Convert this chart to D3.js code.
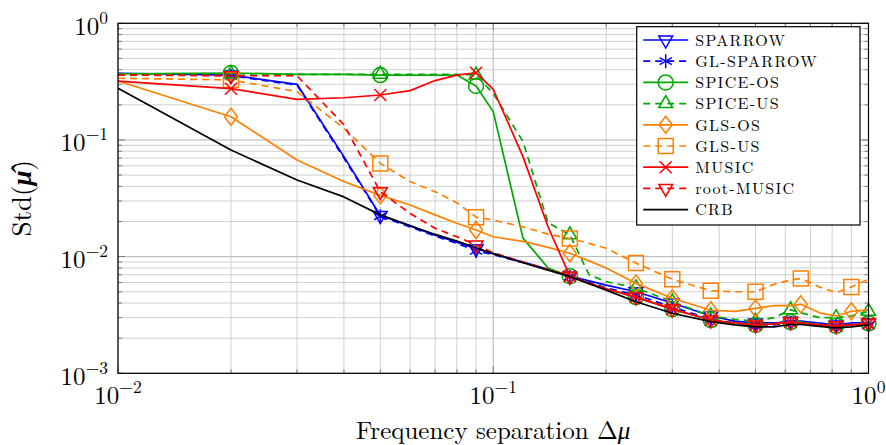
<!DOCTYPE html>
<html>
<head>
<meta charset="utf-8">
<script src="https://cdn.jsdelivr.net/npm/d3@7"></script>
<style>
  body { margin: 0; background: #fff; }
  text { font-family: "Latin Modern Roman", "CMU Serif", "Liberation Serif", serif; fill: #000; }
</style>
</head>
<body>
<div id="chart"></div>
<script>
/********************************************************
 ********************* Data *****************************
 ********************************************************/
var deltaMu = [0.01, 0.02, 0.03, 0.04, 0.05, 0.06, 0.07, 0.08, 0.09, 0.1, 0.12, 0.14, 0.16, 0.18, 0.2,
               0.24, 0.3, 0.38, 0.44, 0.5, 0.56, 0.62, 0.66, 0.74, 0.82, 0.9, 1];

// where the marks sit
var markAt = [0.02, 0.05, 0.09, 0.16, 0.24, 0.3, 0.38, 0.5, 0.62, 0.82, 1];
var markAtGLS = [0.02, 0.05, 0.09, 0.16, 0.24, 0.3, 0.38, 0.5, 0.66, 0.9];

var sparrow = [0.373, 0.36, 0.30, 0.072, 0.0225, 0.0183, 0.0153, 0.0133, 0.0117, 0.0106, 0.0090, 0.0078, 0.0068, 0.0062, 0.0057,
               0.0050, 0.0040, 0.0031, 0.0028, 0.0027, 0.0027, 0.0028, 0.0028, 0.0027, 0.0026, 0.0027, 0.0027];
var glSparrow = [0.37, 0.355, 0.295, 0.07, 0.0222, 0.018, 0.015, 0.013, 0.0112, 0.0104, 0.0089, 0.0077, 0.0067, 0.006, 0.0054,
                 0.0047, 0.0037, 0.0029, 0.0027, 0.0026, 0.0026, 0.0027, 0.0027, 0.0026, 0.00255, 0.0026, 0.0026];
var spiceOS = [0.368, 0.375, 0.365, 0.365, 0.36, 0.36, 0.36, 0.36, 0.29, 0.175, 0.0144, 0.008, 0.0068, 0.0059, 0.0053,
               0.0045, 0.00355, 0.00286, 0.0027, 0.0026, 0.00265, 0.00275, 0.00275, 0.0026, 0.00255, 0.0026, 0.00268];
var spiceUS = [0.365, 0.37, 0.365, 0.365, 0.365, 0.365, 0.365, 0.365, 0.36, 0.25, 0.097, 0.0195, 0.0154, 0.007, 0.0061,
               0.0054, 0.0041, 0.0031, 0.0029, 0.0028, 0.0030, 0.0035, 0.0033, 0.0030, 0.0030, 0.0031, 0.0034];
var glsOS = [0.32, 0.158, 0.0674, 0.044, 0.0335, 0.0277, 0.0228, 0.0193, 0.0169, 0.0148, 0.0135, 0.012, 0.0107, 0.0092, 0.008,
             0.0059, 0.0044, 0.00347, 0.0034, 0.0036, 0.0038, 0.0038, 0.0039, 0.0033, 0.0031, 0.0034, 0.0035];
var glsUS = [0.338, 0.327, 0.26, 0.126, 0.063, 0.044, 0.036, 0.029, 0.0218, 0.0206, 0.018, 0.0156, 0.0143, 0.013, 0.0118,
             0.0088, 0.0064, 0.0051, 0.005, 0.005, 0.0058, 0.0063, 0.0065, 0.0055, 0.0049, 0.0055, 0.0064];
var music = [0.32, 0.275, 0.223, 0.23, 0.243, 0.265, 0.323, 0.36, 0.377, 0.272, 0.072, 0.018, 0.0068, 0.0059, 0.0053,
             0.0045, 0.00355, 0.00286, 0.0027, 0.0026, 0.00265, 0.00275, 0.0027, 0.0026, 0.00255, 0.0026, 0.00268];
var rootMusic = [0.36, 0.355, 0.355, 0.135, 0.036, 0.0235, 0.0175, 0.0148, 0.0126, 0.0108, 0.009, 0.0078, 0.0068, 0.0059, 0.0053,
                 0.0045, 0.00355, 0.00286, 0.0027, 0.0026, 0.00265, 0.00275, 0.0027, 0.0026, 0.00255, 0.0026, 0.00268];
var crb = [0.277, 0.082, 0.0454, 0.0325, 0.0228, 0.0185, 0.0155, 0.0136, 0.0119, 0.0106, 0.00887, 0.00766, 0.00675, 0.00586, 0.00516,
           0.0041, 0.00327, 0.00277, 0.0026, 0.0025, 0.0025, 0.00262, 0.00262, 0.00252, 0.00245, 0.0025, 0.0026];

var seriesNames = ["SPARROW", "GL-SPARROW", "SPICE-OS", "SPICE-US", "GLS-OS", "GLS-US", "MUSIC", "root-MUSIC", "CRB"];
var xTickExp = [-2, -1, 0];
var yTickExp = [-3, -2, -1, 0];

/********************************************************
 ********************* Setup ****************************
 ********************************************************/
var W = 886, H = 445;
var margin = {top: 23.3, right: 17.5, bottom: 71.7, left: 118},
    width = W - margin.left - margin.right,
    height = H - margin.top - margin.bottom;

var blue = "#0000ff", green = "#00a800", orange = "#ff8000", red = "#ff0000";

var series = [
  {name: seriesNames[0], values: sparrow,   color: blue,   dash: null,  mark: "triDown",  marks: markAt},
  {name: seriesNames[1], values: glSparrow, color: blue,   dash: "7,5", mark: "asterisk", marks: markAt},
  {name: seriesNames[2], values: spiceOS,   color: green,  dash: null,  mark: "circle",   marks: markAt},
  {name: seriesNames[3], values: spiceUS,   color: green,  dash: "7,5", mark: "triUp",    marks: markAt},
  {name: seriesNames[4], values: glsOS,     color: orange, dash: null,  mark: "diamond",  marks: markAtGLS},
  {name: seriesNames[5], values: glsUS,     color: orange, dash: "7,5", mark: "square",   marks: markAtGLS},
  {name: seriesNames[6], values: music,     color: red,    dash: null,  mark: "cross",    marks: markAt},
  {name: seriesNames[7], values: rootMusic, color: red,    dash: "7,5", mark: "triDown",  marks: markAt},
  {name: seriesNames[8], values: crb,       color: "#000", dash: null,  mark: null,       marks: []}
];

// mark shapes, drawn round (0,0)
function markPath(kind) {
  var p = d3.path();
  if (kind == "triDown") {
    p.moveTo(0, 8); p.lineTo(-6.9, -4); p.lineTo(6.9, -4); p.closePath();
  } else if (kind == "triUp") {
    p.moveTo(0, -8); p.lineTo(-6.9, 4); p.lineTo(6.9, 4); p.closePath();
  } else if (kind == "circle") {
    p.arc(0, 0, 7.5, 0, 2 * Math.PI);
  } else if (kind == "square") {
    p.rect(-7.5, -7.5, 15, 15);
  } else if (kind == "diamond") {
    p.moveTo(0, -8.5); p.lineTo(6.5, 0); p.lineTo(0, 8.5); p.lineTo(-6.5, 0); p.closePath();
  } else if (kind == "cross") {
    p.moveTo(-6, -6); p.lineTo(6, 6); p.moveTo(-6, 6); p.lineTo(6, -6);
  } else if (kind == "asterisk") {
    p.moveTo(0, -7); p.lineTo(0, 7);
    p.moveTo(-6.1, -3.5); p.lineTo(6.1, 3.5);
    p.moveTo(-6.1, 3.5); p.lineTo(6.1, -3.5);
  }
  return p.toString();
}

var svg = d3.select("#chart").append("svg")
    .attr("width", W)
    .attr("height", H);

var g = svg.append("g")
    .attr("transform", "translate(" + margin.left + "," + margin.top + ")");

var x = d3.scaleLog().domain([0.01, 1]).range([0, width]),
    y = d3.scaleLog().domain([0.001, 1]).range([height, 0]);

/********************************************************
 ********************* Grid & ticks *********************
 ********************************************************/
function logTicks(lo, hi) {
  var out = [];
  for (var e = lo; e < hi; e++) {
    for (var m = 1; m <= 9; m++) out.push({v: m * Math.pow(10, e), major: m == 1});
  }
  out.push({v: Math.pow(10, hi), major: true});
  return out;
}
var xt = logTicks(-2, 0), yt = logTicks(-3, 0);

var grid = g.append("g").attr("class", "grid");
grid.selectAll(".vx").data(xt).enter().append("line")
    .attr("x1", function(d) { return x(d.v); })
    .attr("x2", function(d) { return x(d.v); })
    .attr("y1", 0).attr("y2", height)
    .attr("stroke", function(d) { return d.major ? "#b4b4b4" : "#cfcfcf"; })
    .attr("stroke-width", 1);
grid.selectAll(".hy").data(yt).enter().append("line")
    .attr("y1", function(d) { return y(d.v); })
    .attr("y2", function(d) { return y(d.v); })
    .attr("x1", 0).attr("x2", width)
    .attr("stroke", function(d) { return d.major ? "#b4b4b4" : "#cfcfcf"; })
    .attr("stroke-width", 1);

// small inner ticks on all four sides
var ticks = g.append("g").attr("stroke", "#707070").attr("stroke-width", 0.9);
xt.forEach(function(d) {
  var len = d.major ? 7 : 4;
  ticks.append("line").attr("x1", x(d.v)).attr("x2", x(d.v)).attr("y1", height).attr("y2", height - len);
  ticks.append("line").attr("x1", x(d.v)).attr("x2", x(d.v)).attr("y1", 0).attr("y2", len);
});
yt.forEach(function(d) {
  var len = d.major ? 7 : 4;
  ticks.append("line").attr("y1", y(d.v)).attr("y2", y(d.v)).attr("x1", 0).attr("x2", len);
  ticks.append("line").attr("y1", y(d.v)).attr("y2", y(d.v)).attr("x1", width).attr("x2", width - len);
});

/********************************************************
 ********************* Curves ***************************
 ********************************************************/
var line = d3.line()
    .x(function(d) { return x(d[0]); })
    .y(function(d) { return y(d[1]); });

var plot = g.append("g");
series.forEach(function(s) {
  var pts = deltaMu.map(function(v, i) { return [v, s.values[i]]; });
  plot.append("path")
      .datum(pts)
      .attr("d", line)
      .attr("fill", "none")
      .attr("stroke", s.color)
      .attr("stroke-width", 1.7)
      .attr("stroke-linejoin", "round")
      .attr("stroke-dasharray", s.dash);

  if (s.mark) {
    var mpts = pts.filter(function(p) { return s.marks.indexOf(p[0]) >= 0; });
    plot.selectAll(null).data(mpts).enter().append("path")
        .attr("d", markPath(s.mark))
        .attr("transform", function(d) { return "translate(" + x(d[0]) + "," + y(d[1]) + ")"; })
        .attr("fill", "none")
        .attr("stroke", s.color)
        .attr("stroke-width", 1.5);
  }
});

// frame
g.append("rect")
    .attr("width", width).attr("height", height)
    .attr("fill", "none").attr("stroke", "#000").attr("stroke-width", 1.2);

/********************************************************
 ********************* Tick labels **********************
 ********************************************************/
xTickExp.forEach(function(e) {
  var t = g.append("text")
      .attr("x", x(Math.pow(10, e)))
      .attr("y", height + 31)
      .attr("text-anchor", "middle")
      .style("font-size", "25px");
  t.append("tspan").text("10");
  t.append("tspan").attr("dy", -11).style("font-size", "17.5px").text(e < 0 ? "\u2212" + (-e) : e);
});

yTickExp.forEach(function(e) {
  var t = g.append("text")
      .attr("x", -10)
      .attr("y", y(Math.pow(10, e)) + 11.5)
      .attr("text-anchor", "end")
      .style("font-size", "25px");
  t.append("tspan").text("10");
  t.append("tspan").attr("dy", -11).style("font-size", "17.5px").text(e < 0 ? "\u2212" + (-e) : e);
});

// axis titles
var xl = svg.append("text")
    .attr("x", margin.left + width / 2)
    .attr("y", 438.5)
    .attr("text-anchor", "middle")
    .style("font-size", "25px");
xl.append("tspan").text("Frequency separation \u0394");
xl.append("tspan").style("font-style", "italic").text("\u03bc");

var yl = svg.append("text")
    .attr("transform", "translate(31," + (margin.top + height / 2) + ") rotate(-90)")
    .attr("text-anchor", "middle")
    .style("font-size", "27px");
yl.append("tspan").text("Std(");
yl.append("tspan").style("font-style", "italic").style("font-weight", "bold").text("\u03bc\u0302");
yl.append("tspan").text(")");

/********************************************************
 ********************* Legend ***************************
 ********************************************************/
var lg = svg.append("g").attr("transform", "translate(636.7,26.7)");
lg.append("rect")
    .attr("width", 223.3).attr("height", 198.3)
    .attr("fill", "#fff").attr("stroke", "#000").attr("stroke-width", 1.2);

series.forEach(function(s, i) {
  var cy = 13.3 + i * 21.2;
  var row = lg.append("g").attr("transform", "translate(0," + cy + ")");
  row.append("line")
      .attr("x1", 6.5).attr("x2", 51.5)
      .attr("stroke", s.color).attr("stroke-width", 1.7)
      .attr("stroke-dasharray", s.dash);
  if (s.mark) {
    row.append("path")
        .attr("d", markPath(s.mark))
        .attr("transform", "translate(29,0)")
        .attr("fill", "none").attr("stroke", s.color).attr("stroke-width", 1.5);
  }
  row.append("text")
      .attr("x", 58.5).attr("y", 5.8)
      .style("font-size", "16px")
      .style("letter-spacing", "1.3px")
      .text(s.name);
});
</script>
</body>
</html>
